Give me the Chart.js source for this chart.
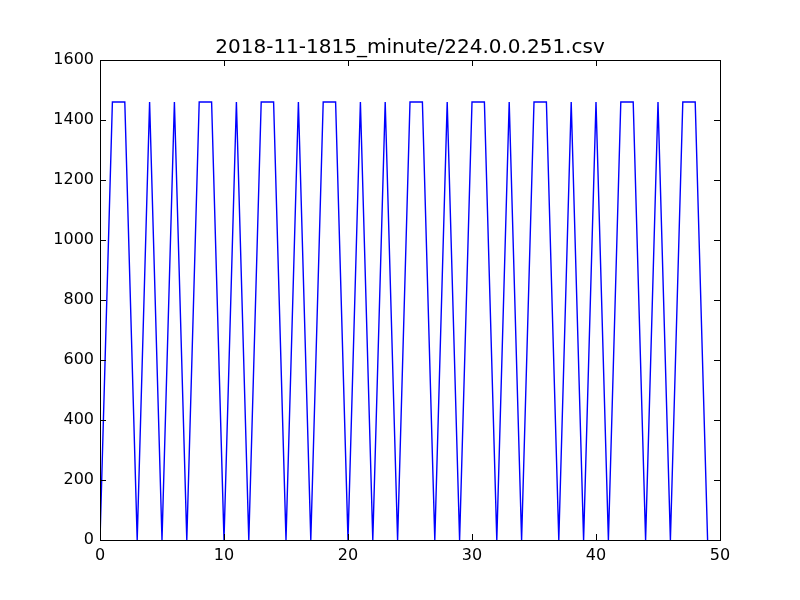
<!DOCTYPE html>
<html>
<head>
<meta charset="utf-8">
<title>2018-11-1815_minute/224.0.0.251.csv</title>
<script src="https://cdn.jsdelivr.net/npm/chart.js@4/dist/chart.umd.min.js"></script>
<style>
  html, body { margin: 0; padding: 0; background: #fff; }
  canvas { display: block; }
</style>
</head>
<body>
<canvas id="c" width="800" height="600"></canvas>
<script>
/* data */
const xs = [0,1,2,3,4,5,6,7,8,9,10,11,12,13,14,15,16,17,18,19,20,21,22,23,24,
            25,26,27,28,29,30,31,32,33,34,35,36,37,38,39,40,41,42,43,44,45,46,47,48,49];
const ys = [0,1460,1460,0,1460,0,1460,0,1460,1460,0,1460,0,1460,1460,0,1460,0,1460,1460,
            0,1460,0,1460,0,1460,1460,0,1460,0,1460,1460,0,1460,0,1460,1460,0,1460,0,
            1460,0,1460,1460,0,1460,0,1460,1460,0];
const xTicks = [0, 10, 20, 30, 40, 50];
const yTicks = [0, 200, 400, 600, 800, 1000, 1200, 1400, 1600];
const title = '2018-11-1815_minute/224.0.0.251.csv';

const family = "'DejaVu Sans', sans-serif";
const font = { family, size: 16 };

/* matplotlib-style frame, inward ticks on all four sides, title over the axes */
const frame = {
  id: 'frame',
  afterDraw(chart) {
    const { ctx, chartArea: a, scales: { x, y } } = chart;
    const len = 6;
    ctx.save();
    ctx.strokeStyle = '#000';
    ctx.lineWidth = 1;
    ctx.beginPath();
    xTicks.forEach(v => {
      const px = Math.round(x.getPixelForValue(v)) + .5;
      ctx.moveTo(px, a.bottom); ctx.lineTo(px, a.bottom - len);
      ctx.moveTo(px, a.top);    ctx.lineTo(px, a.top + len);
    });
    yTicks.forEach(v => {
      const py = Math.round(y.getPixelForValue(v)) + .5;
      ctx.moveTo(a.left, py);  ctx.lineTo(a.left + len, py);
      ctx.moveTo(a.right, py); ctx.lineTo(a.right - len, py);
    });
    ctx.stroke();
    ctx.strokeRect(Math.round(a.left) + .5, Math.round(a.top) + .5,
                   Math.round(a.right - a.left), Math.round(a.bottom - a.top));

    ctx.fillStyle = '#000';
    ctx.font = `20px ${family}`;
    ctx.textAlign = 'center';
    ctx.textBaseline = 'alphabetic';
    ctx.fillText(title, (a.left + a.right) / 2, a.top - 7);
    ctx.restore();
  }
};

new Chart('c', {
  type: 'line',
  data: {
    datasets: [{
      data: xs.map((v, i) => ({ x: v, y: ys[i] })),
      borderColor: '#0000ff', borderWidth: 1.4,
      pointRadius: 0, tension: 0, fill: false
    }]
  },
  options: {
    responsive: false, animation: false, devicePixelRatio: 1,
    layout: { padding: { top: 60, right: 80, bottom: 0, left: 0 } },
    plugins: {
      legend: { display: false },
      tooltip: { enabled: false },
      title: { display: false }
    },
    scales: {
      x: {
        type: 'linear', min: 0, max: 50,
        afterBuildTicks: s => { s.ticks = xTicks.map(v => ({ value: v })); },
        afterFit: s => { s.height = 60; },
        grid: { display: false, drawTicks: false },
        border: { display: false },
        ticks: { color: '#000', font, padding: 6, maxRotation: 0, callback: v => String(v) }
      },
      y: {
        min: 0, max: 1600,
        afterBuildTicks: s => { s.ticks = yTicks.map(v => ({ value: v })); },
        afterFit: s => { s.width = 100; },
        grid: { display: false, drawTicks: false },
        border: { display: false },
        ticks: { color: '#000', font, padding: 6, callback: v => String(v) }
      }
    }
  },
  plugins: [frame]
});
</script>
</body>
</html>
